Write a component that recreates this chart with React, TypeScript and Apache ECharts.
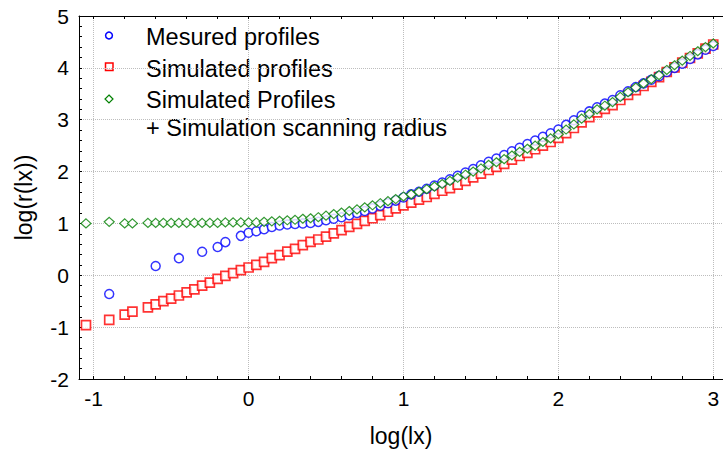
import React, { useEffect, useRef } from "react";
import * as echarts from "echarts";

// ---- axis ranges & tick labels ----
const X_MIN = -1.095;
const X_MAX = 3.063;
const Y_MIN = -2;
const Y_MAX = 5;
const X_LABELS = [-1, 0, 1, 2, 3];
const X_MINOR_TICKS = [
  -1, -0.8, -0.6, -0.4, -0.2, 0, 0.2, 0.4, 0.6, 0.8, 1, 1.2, 1.4, 1.6, 1.8, 2,
  2.2, 2.4, 2.6, 2.8, 3,
];

// ---- series: Simulated profiles (red) & Simulated Profiles + radius (green) ----
const X_SIM = [
  -1.05, -0.9, -0.8, -0.75, -0.65, -0.6, -0.55, -0.5, -0.45, -0.4, -0.35, -0.3,
  -0.25, -0.2, -0.15, -0.1, -0.05, 0, 0.05, 0.1, 0.15, 0.2, 0.25, 0.3, 0.35,
  0.4, 0.45, 0.5, 0.55, 0.6, 0.65, 0.7, 0.75, 0.8, 0.85, 0.9, 0.95, 1.0, 1.05,
  1.1, 1.15, 1.2, 1.25, 1.3, 1.35, 1.4, 1.45, 1.5, 1.55, 1.6, 1.65, 1.7, 1.75,
  1.8, 1.85, 1.9, 1.95, 2.0, 2.05, 2.1, 2.15, 2.2, 2.25, 2.3, 2.35, 2.4, 2.45,
  2.5, 2.55, 2.6, 2.65, 2.7, 2.75, 2.8, 2.85, 2.9, 2.95, 3.0,
];
const Y_RED = [
  -0.96, -0.86, -0.76, -0.7, -0.62, -0.56, -0.5, -0.45, -0.39, -0.33, -0.27,
  -0.2, -0.14, -0.07, -0.01, 0.04, 0.1, 0.15, 0.2, 0.26, 0.33, 0.39, 0.455,
  0.51, 0.58, 0.645, 0.69, 0.745, 0.81, 0.87, 0.935, 0.99, 1.05, 1.1, 1.16,
  1.225, 1.29, 1.35, 1.4, 1.46, 1.51, 1.57, 1.63, 1.68, 1.75, 1.82, 1.89, 1.96,
  2.03, 2.09, 2.15, 2.23, 2.3, 2.36, 2.43, 2.5, 2.57, 2.65, 2.74, 2.84, 2.95,
  3.05, 3.14, 3.21, 3.28, 3.38, 3.48, 3.57, 3.65, 3.73, 3.82, 3.92, 4.01, 4.1,
  4.19, 4.28, 4.37, 4.45,
];
const Y_GREEN = [
  1.0, 1.03, 1.0, 1.0, 1.01, 1.01, 1.01, 1.01, 1.01, 1.01, 1.01, 1.01, 1.01,
  1.01, 1.02, 1.02, 1.02, 1.02, 1.02, 1.03, 1.04, 1.05, 1.06, 1.07, 1.09, 1.1,
  1.12, 1.15, 1.18, 1.21, 1.24, 1.27, 1.31, 1.35, 1.39, 1.43, 1.47, 1.52, 1.56,
  1.61, 1.66, 1.71, 1.76, 1.82, 1.88, 1.94, 2.0, 2.06, 2.13, 2.18, 2.24, 2.31,
  2.38, 2.44, 2.5, 2.57, 2.64, 2.72, 2.81, 2.91, 3.02, 3.11, 3.2, 3.27, 3.34,
  3.44, 3.53, 3.62, 3.7, 3.78, 3.86, 3.96, 4.05, 4.14, 4.23, 4.32, 4.4, 4.47,
];

// ---- series: Mesured profiles (blue) ----
const X_MES = [
  -0.9, -0.6, -0.45, -0.3, -0.2, -0.15, -0.05, 0, 0.05, 0.1, 0.15, 0.2, 0.25,
  0.3, 0.35, 0.4, 0.45, 0.5, 0.55, 0.6, 0.65, 0.7, 0.75, 0.8, 0.85, 0.9, 0.95,
  1.0, 1.05, 1.1, 1.15, 1.2, 1.25, 1.3, 1.35, 1.4, 1.45, 1.5, 1.55, 1.6, 1.65,
  1.7, 1.75, 1.8, 1.85, 1.9, 1.95, 2.0, 2.05, 2.1, 2.15, 2.2, 2.25, 2.3, 2.35,
  2.4, 2.45, 2.5, 2.55, 2.6, 2.65, 2.7, 2.75, 2.8, 2.85, 2.9, 2.95, 3.0,
];
const Y_MES = [
  -0.36, 0.18, 0.33, 0.455, 0.545, 0.64, 0.76, 0.82, 0.85, 0.89, 0.93, 0.96,
  0.98, 0.99, 1.0, 1.01, 1.03, 1.06, 1.09, 1.12, 1.16, 1.2, 1.24, 1.29, 1.34,
  1.39, 1.44, 1.5, 1.56, 1.61, 1.67, 1.73, 1.79, 1.85, 1.92, 1.98, 2.05, 2.12,
  2.19, 2.25, 2.32, 2.39, 2.46, 2.53, 2.6, 2.67, 2.74, 2.81, 2.9, 2.99, 3.08,
  3.16, 3.24, 3.31, 3.38, 3.47, 3.55, 3.63, 3.7, 3.77, 3.84, 3.92, 4.0, 4.08,
  4.17, 4.26, 4.35, 4.42,
];

const LEGEND_NAMES = [
  "Mesured profiles",
  "Simulated profiles",
  "Simulated Profiles",
  "+ Simulation scanning radius",
];

const FONT = "'Liberation Sans', Arial, sans-serif";
const BLUE = "#0000ff";
const RED = "#ff0000";
const GREEN = "#008000";
const GRID_COLOR = "#bdbdbd";
const LEGEND_FONT = 23.5;

export default function App() {
  const ref = useRef<HTMLDivElement>(null);

  useEffect(() => {
    const chart = echarts.init(ref.current!, null, { renderer: "svg" });
    const tickStyle = { color: "#000", width: 1 };
    const legendText = (text: string, y: number) => ({
      type: "text",
      x: 146,
      y,
      style: { text, fontSize: LEGEND_FONT, fill: "#000", fontFamily: FONT, verticalAlign: "middle" },
    });
    chart.setOption({
      animation: false,
      backgroundColor: "#fff",
      textStyle: { fontFamily: FONT },
      grid: { left: 79, right: 0, top: 16, bottom: 73 },
      xAxis: [
        {
          type: "value",
          min: X_MIN,
          max: X_MAX,
          position: "bottom",
          axisLine: { show: true, onZero: false, lineStyle: { color: "#000", width: 1 } },
          axisTick: { show: true, inside: true, length: 3, customValues: X_MINOR_TICKS, lineStyle: tickStyle },
          axisLabel: { customValues: X_LABELS, fontSize: 21, color: "#000", margin: 9, fontFamily: FONT },
          splitLine: { show: false },
          name: "log(lx)",
          nameLocation: "middle",
          nameGap: 45,
          nameTextStyle: { fontSize: 23, color: "#000", fontFamily: FONT },
        },
        {
          type: "value",
          min: X_MIN,
          max: X_MAX,
          position: "top",
          axisLine: { show: true, onZero: false, lineStyle: { color: "#000", width: 1 } },
          axisTick: { show: true, inside: true, length: 3, customValues: X_MINOR_TICKS, lineStyle: tickStyle },
          axisLabel: { show: false },
          splitLine: { show: false },
        },
        {
          type: "value",
          min: X_MIN,
          max: X_MAX,
          position: "bottom",
          axisLine: { show: false, onZero: false },
          axisTick: { show: false, customValues: X_LABELS },
          axisLabel: { show: false },
          splitLine: { show: true, lineStyle: { type: "dotted", color: GRID_COLOR, width: 1 } },
        },
      ],
      yAxis: [
        {
          type: "value",
          min: Y_MIN,
          max: Y_MAX,
          interval: 1,
          position: "left",
          axisLine: { show: true, onZero: false, lineStyle: { color: "#000", width: 1 } },
          axisTick: { show: true, inside: true, length: 3, lineStyle: tickStyle },
          minorTick: { show: true, splitNumber: 5, length: 3, lineStyle: tickStyle },
          axisLabel: { fontSize: 21, color: "#000", margin: 10, fontFamily: FONT },
          splitLine: { show: true, lineStyle: { type: "dotted", color: GRID_COLOR, width: 1 } },
          name: "log(r(lx))",
          nameLocation: "middle",
          nameGap: 44,
          nameTextStyle: { fontSize: 23, color: "#000", fontFamily: FONT },
        },
      ],
      series: [
        {
          type: "scatter",
          name: LEGEND_NAMES[1],
          data: X_SIM.map((x, i) => [x, Y_RED[i]]),
          symbol: "rect",
          symbolSize: 9,
          itemStyle: { color: "#fff", borderColor: RED, borderWidth: 1.7 },
          silent: true,
        },
        {
          type: "scatter",
          name: LEGEND_NAMES[0],
          data: X_MES.map((x, i) => [x, Y_MES[i]]),
          symbol: "circle",
          symbolSize: 9,
          itemStyle: { color: "#fff", borderColor: BLUE, borderWidth: 1.5 },
          silent: true,
        },
        {
          type: "scatter",
          name: LEGEND_NAMES[2],
          data: X_SIM.map((x, i) => [x, Y_GREEN[i]]),
          symbol: "diamond",
          symbolSize: [10, 9],
          itemStyle: { color: "#fff", borderColor: GREEN, borderWidth: 1.2 },
          silent: true,
        },
      ],
      graphic: [
        { type: "circle", shape: { cx: 109, cy: 35.5, r: 3.4 }, style: { fill: "#fff", stroke: BLUE, lineWidth: 1.5 } },
        { type: "rect", shape: { x: 105.5, y: 63, width: 7.5, height: 7.5 }, style: { fill: "#fff", stroke: RED, lineWidth: 1.5 } },
        {
          type: "polygon",
          shape: { points: [[109, 95], [113, 99], [109, 103], [105, 99]] },
          style: { fill: "#fff", stroke: GREEN, lineWidth: 1.2 },
        },
        legendText(LEGEND_NAMES[0], 37),
        legendText(LEGEND_NAMES[1], 69),
        legendText(LEGEND_NAMES[2], 100),
        legendText(LEGEND_NAMES[3], 128),
      ],
    });
    return () => chart.dispose();
  }, []);

  return (
    <div
      ref={ref}
      style={{ position: "fixed", left: 0, top: 0, width: 723, height: 452, background: "#fff" }}
    />
  );
}
